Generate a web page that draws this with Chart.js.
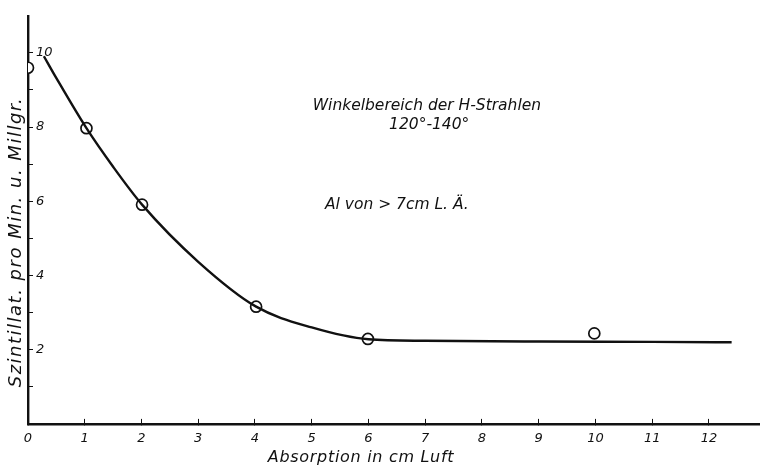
<!DOCTYPE html>
<html>
<head>
<meta charset="utf-8">
<script src="https://cdn.jsdelivr.net/npm/chart.js@4/dist/chart.umd.min.js"></script>
<style>
  html, body { margin: 0; padding: 0; background: #fff; }
  #wrap { width: 760px; height: 468px; }
</style>
</head>
<body>
<div id="wrap"><canvas id="myChart" width="760" height="468"></canvas></div>
<script>
// messpunkte (kreise)
const messX = [0, 1.03, 2.01, 4.02, 5.99, 9.98];
const messY = [9.6, 7.97, 5.91, 3.16, 2.29, 2.44];

// gezeichnete kurve
const kurveX = [0.28, 0.5, 1.03, 1.5, 2.01, 3, 4.02, 5, 6, 7, 9, 11, 12.4];
const kurveY = [9.91, 9.32, 7.97, 6.93, 5.91, 4.37, 3.16, 2.6, 2.28, 2.24, 2.22, 2.21, 2.2];

const xTicks = [0, 1, 2, 3, 4, 5, 6, 7, 8, 9, 10, 11, 12];
const yTicks = [0, 1, 2, 3, 4, 5, 6, 7, 8, 9, 10];
const yLabels = ["", "", "2", "", "4", "", "6", "", "8", "", "10"];

const xTitel = "Absorption in cm Luft";
const yTitel = "Szintillat. pro Min. u. Millgr.";
const notizen = [
  { text: "Winkelbereich der H-Strahlen", x: 7.03, y: 8.58 },
  { text: "120°-140°", x: 7.07, y: 8.07 },
  { text: "Al von > 7cm L. Ä.", x: 6.5, y: 5.91 }
];

const schrift = "'DejaVu Sans', sans-serif";

const textPlugin = {
  id: "texte",
  afterDraw(chart) {
    const ctx = chart.ctx;
    const xs = chart.scales.x;
    const ys = chart.scales.y;
    ctx.save();
    ctx.fillStyle = "#111";
    ctx.textAlign = "center";
    ctx.textBaseline = "middle";
    ctx.font = "italic 15.5px " + schrift;
    notizen.forEach((n) => {
      ctx.fillText(n.text, xs.getPixelForValue(n.x), ys.getPixelForValue(n.y));
    });
    // x achsentitel
    ctx.font = "italic 16px " + schrift;
    ctx.letterSpacing = "0.7px";
    ctx.fillText(xTitel, 361, 458);
    // y achsentitel
    ctx.translate(16, 242);
    ctx.rotate(-Math.PI / 2);
    ctx.font = "italic 18px " + schrift;
    ctx.letterSpacing = "1.5px";
    ctx.fillText(yTitel, 0, 0);
    ctx.restore();
  }
};

const nurGanze = (scale, liste) => {
  scale.ticks = liste.map((v) => ({ value: v }));
};

const config = {
  type: "scatter",
  data: {
    datasets: [
      {
        label: "Kurve",
        data: kurveX.map((x, i) => ({ x: x, y: kurveY[i] })),
        showLine: true,
        borderColor: "#111",
        borderWidth: 2.4,
        pointRadius: 0,
        cubicInterpolationMode: "monotone"
      },
      {
        label: "Messwerte",
        data: messX.map((x, i) => ({ x: x, y: messY[i] })),
        showLine: false,
        pointRadius: 5.5,
        pointBackgroundColor: "#fff",
        pointBorderColor: "#111",
        pointBorderWidth: 1.7
      }
    ]
  },
  options: {
    responsive: false,
    animation: false,
    layout: { autoPadding: false, padding: { left: 17, top: 12, right: 0, bottom: 10.5 } },
    plugins: { legend: { display: false }, tooltip: { enabled: false } },
    scales: {
      x: {
        type: "linear",
        min: 0,
        max: 12.9,
        afterBuildTicks: (s) => nurGanze(s, xTicks),
        border: { display: true, color: "#111", width: 2.4 },
        grid: { drawOnChartArea: false, drawTicks: true, tickLength: -5, color: "#111", lineWidth: 1 },
        ticks: {
          color: "#111",
          padding: 11.5,
          maxRotation: 0,
          autoSkip: false,
          font: { family: schrift, size: 13, style: "italic" }
        }
      },
      y: {
        type: "linear",
        min: 0,
        max: 11,
        afterBuildTicks: (s) => nurGanze(s, yTicks),
        border: { display: true, color: "#111", width: 2.4 },
        grid: { drawOnChartArea: false, drawTicks: true, tickLength: -5, color: "#111", lineWidth: 1 },
        ticks: {
          color: "#111",
          mirror: true,
          padding: 8,
          autoSkip: false,
          callback: (v, i) => yLabels[i],
          font: { family: schrift, size: 13, style: "italic" }
        }
      }
    }
  },
  plugins: [textPlugin]
};

new Chart(document.getElementById("myChart").getContext("2d"), config);
</script>
</body>
</html>
